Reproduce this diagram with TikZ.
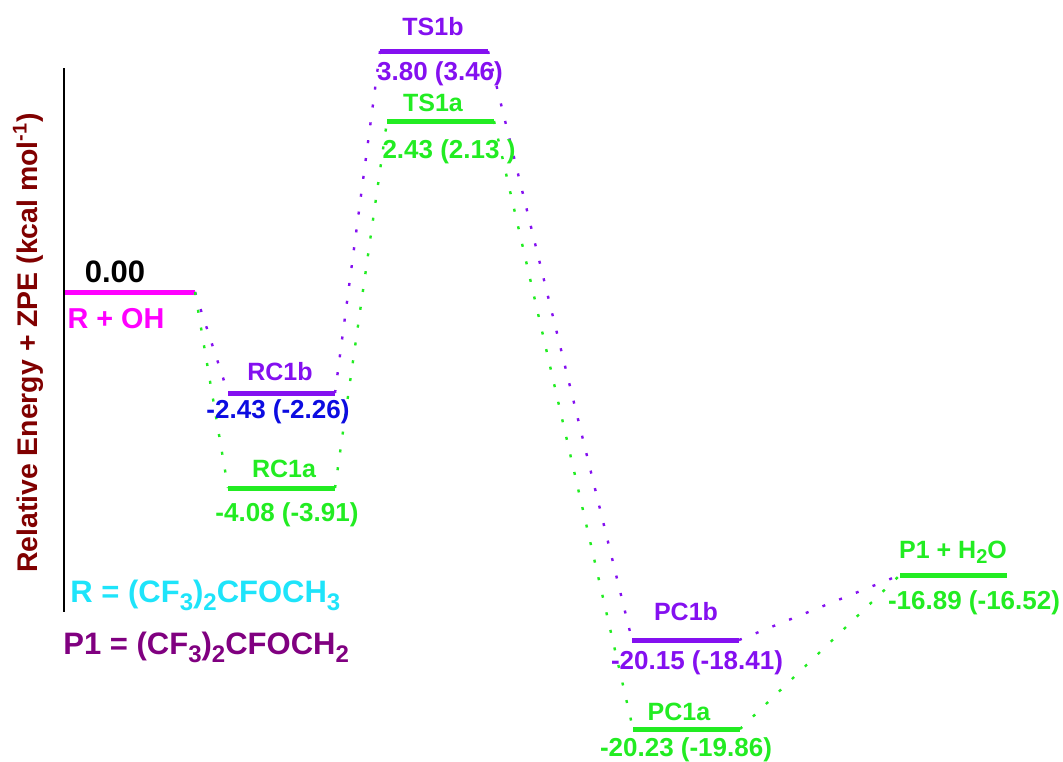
\documentclass[tikz,border=0pt]{standalone}
\usepackage{fontspec}
\setmainfont{Liberation Sans}

\definecolor{lvlgreen}{RGB}{34,236,34}
\definecolor{lvlviolet}{RGB}{132,16,240}
\definecolor{lvlmagenta}{RGB}{255,0,255}
\definecolor{lvlblue}{RGB}{12,12,225}
\definecolor{lvlcyan}{RGB}{30,228,250}
\definecolor{axisred}{RGB}{128,0,0}
\definecolor{prodpurple}{RGB}{128,0,128}

% lowered index in formulas
\newcommand{\chsub}[1]{\raisebox{-0.5ex}{\fontsize{12}{13}\selectfont #1}}

\begin{document}
\begin{tikzpicture}[x=0.5pt, y=-0.5pt,
	lvl/.style={line width=2.5pt},
	link/.style={line width=1.2pt, dash pattern=on 1.5pt off 7.5pt},
	lab/.style={inner sep=0pt, font=\fontsize{12.5}{14}\selectfont\bfseries},
	val/.style={inner sep=0pt, font=\fontsize{13}{15}\selectfont\bfseries},
	key/.style={inner sep=0pt, anchor=west, font=\fontsize{15.5}{17}\selectfont\bfseries}]
	\useasboundingbox (0,0) rectangle (1063,761);

	% energy axis
	\draw[line width=1pt] (64,68) coordinate (ax-top) -- (64,612) coordinate (ax-bot);
	\node[inner sep=0pt, rotate=90, text=axisred, font=\fontsize{14.2}{16}\selectfont\bfseries] (ylab) at (28,343)
		{Relative Energy + ZPE (kcal mol\textsuperscript{-1})};

	% levels
	\draw[lvl, lvlmagenta] (65,292) coordinate (R-l) -- (195,292) coordinate (R-r);
	\draw[lvl, lvlviolet] (228,393) coordinate (RC1b-l) -- (335,393) coordinate (RC1b-r);
	\draw[lvl, lvlgreen] (228,488) coordinate (RC1a-l) -- (335,488) coordinate (RC1a-r);
	\draw[lvl, lvlviolet] (380,51) coordinate (TS1b-l) -- (488,51) coordinate (TS1b-r);
	\draw[lvl, lvlgreen] (387,121) coordinate (TS1a-l) -- (494,121) coordinate (TS1a-r);
	\draw[lvl, lvlviolet] (632,640) coordinate (PC1b-l) -- (739,640) coordinate (PC1b-r);
	\draw[lvl, lvlgreen] (633,729) coordinate (PC1a-l) -- (740,729) coordinate (PC1a-r);
	\draw[lvl, lvlgreen] (900,575) coordinate (P1-l) -- (1007,575) coordinate (P1-r);

	% dotted paths, b channel
	\draw[link, lvlviolet] (R-r) -- (RC1b-l);
	\draw[link, lvlviolet] (RC1b-r) -- (TS1b-l);
	\draw[link, lvlviolet] (TS1b-r) -- (PC1b-l);
	\draw[link, lvlviolet] (PC1b-r) -- (P1-l);
	% dotted paths, a channel
	\draw[link, lvlgreen] (R-r) -- (RC1a-l);
	\draw[link, lvlgreen] (RC1a-r) -- (TS1a-l);
	\draw[link, lvlgreen] (TS1a-r) -- (PC1a-l);
	\draw[link, lvlgreen] (PC1a-r) -- (P1-l);

	% names and energies
	\node[inner sep=0pt, font=\fontsize{15.5}{17}\selectfont\bfseries] (R-e) at (115,272) {0.00};
	\node[inner sep=0pt, text=lvlmagenta, font=\fontsize{14.4}{16}\selectfont\bfseries] (R-n) at (116,319) {R + OH};
	\node[lab, text=lvlviolet] (RC1b-n) at (280,372) {RC1b};
	\node[val, text=lvlblue] (RC1b-e) at (278,412) {-2.43 (-2.26)};
	\node[lab, text=lvlgreen] (RC1a-n) at (284,469) {RC1a};
	\node[val, text=lvlgreen] (RC1a-e) at (287,515) {-4.08 (-3.91)};
	\node[lab, text=lvlviolet] (TS1b-n) at (433,27) {TS1b};
	\node[val, text=lvlviolet] (TS1b-e) at (440,74) {3.80 (3.46)};
	\node[lab, text=lvlgreen] (TS1a-n) at (433,103) {TS1a};
	\node[val, text=lvlgreen] (TS1a-e) at (449,152) {2.43 (2.13 )};
	\node[lab, text=lvlviolet] (PC1b-n) at (686,612) {PC1b};
	\node[val, text=lvlviolet] (PC1b-e) at (697,663) {-20.15 (-18.41)};
	\node[lab, text=lvlgreen] (PC1a-n) at (679,712) {PC1a};
	\node[val, text=lvlgreen] (PC1a-e) at (686,750) {-20.23 (-19.86)};
	\node[lab, text=lvlgreen] (P1-n) at (953,552) {P1 + H{\fontsize{10}{11}\selectfont\raisebox{-0.5ex}{2}}O};
	\node[val, text=lvlgreen] (P1-e) at (974,603) {-16.89 (-16.52)};

	% species key
	\node[key, text=lvlcyan] (key-R) at (70,595) {R = (CF\chsub{3})\chsub{2}CFOCH\chsub{3}};
	\node[key, text=prodpurple] (key-P1) at (63,647) {P1 = (CF\chsub{3})\chsub{2}CFOCH\chsub{2}};
\end{tikzpicture}
\end{document}
